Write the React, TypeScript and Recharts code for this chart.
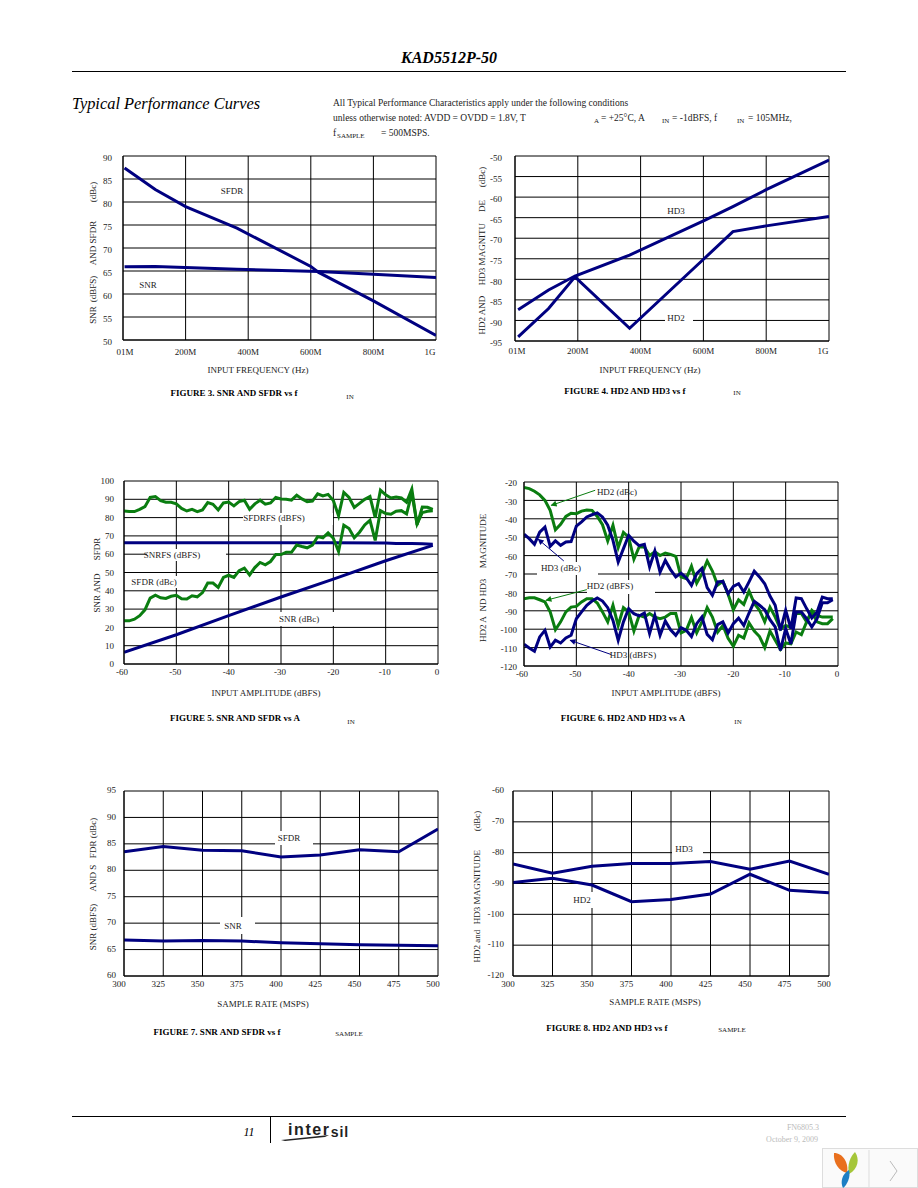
import React from 'react';
import { CartesianGrid, Line, LineChart, ReferenceLine, XAxis, YAxis } from 'recharts';

const NAVY = '#000080';
const GREEN = '#0a7d10';
const SERIF = '"Liberation Serif", serif';

// figure 3 / 4: input frequency in MHz
const freqTicks = [0, 200, 400, 600, 800, 1000];
const freqLabels = ['01M', '200M', '400M', '600M', '800M', '1G'];

const fig3Ticks = [50, 55, 60, 65, 70, 75, 80, 85, 90];
const fig3SfdrX = [5, 103, 200, 364, 600, 625, 800, 1000];
const fig3Sfdr = [87.4, 82.7, 79, 74.3, 66, 64.7, 58.5, 51];
const fig3SnrX = [5, 103, 364, 625, 800, 1000];
const fig3Snr = [65.9, 66, 65.4, 64.9, 64.3, 63.6];

const fig4Ticks = [-95, -90, -85, -80, -75, -70, -65, -60, -55, -50];
const fig4X = [10, 107, 191, 365, 602, 694, 800, 1000];
const fig4Hd3 = [-87.4, -82.6, -79.2, -74.1, -65.7, -62.3, -58.2, -51];
const fig4Hd2 = [-94, -87.1, -79.4, -91.9, -75, -68.4, -67, -64.7];

// figure 5 / 6: input amplitude, one point per dB from -60 to -1
const ampX = [
  -60, -59, -58, -57, -56, -55, -54, -53, -52, -51, -50, -49, -48, -47, -46, -45, -44, -43, -42, -41,
  -40, -39, -38, -37, -36, -35, -34, -33, -32, -31, -30, -29, -28, -27, -26, -25, -24, -23, -22, -21,
  -20, -19, -18, -17, -16, -15, -14, -13, -12, -11, -10, -9, -8, -7, -6, -5, -4, -3, -2, -1,
];
const ampTicks = [-60, -50, -40, -30, -20, -10, 0];

const fig5Ticks = [0, 10, 20, 30, 40, 50, 60, 70, 80, 90, 100];
const fig5SfdrFs = [
  83.6, 83.3, 83.3, 84.5, 86, 91, 91.5, 89.3, 88.4, 88.4, 87.5, 85, 83.6, 84.5, 83.3, 84.2, 88.2, 87.3, 84.2, 88,
  88.5, 86.4, 88.7, 89.5, 84.5, 87.5, 89.5, 87.3, 88, 91, 90.2, 90, 89.5, 92.2, 90.2, 88.7, 89, 93, 91.8, 92.7,
  89.3, 81, 93.8, 91, 85.5, 87.8, 90, 91.5, 80, 95, 92.4, 90.7, 91.3, 90.7, 88.4, 95.6, 76, 85.8, 85.6, 84.5,
];
const fig5SfdrC = [
  23.6, 23.6, 24.5, 26.4, 29.6, 36, 37.6, 36.2, 35.8, 37, 37.5, 35.6, 35.5, 37.3, 36.7, 39, 44.2, 44.2, 41.8, 47.3,
  48.5, 47.3, 51, 52.4, 48.7, 52.7, 55.5, 54.2, 56, 59.8, 59.8, 61, 61, 65, 64.2, 63.5, 65, 69.6, 68.9, 71.6,
  68.7, 61.5, 75.8, 74, 69, 72, 76, 78.5, 67.5, 83.8, 82.2, 81.8, 83.5, 83.8, 82, 93.3, 76.5, 82.7, 83.5, 83.8,
];
const fig5SnrFsX = [-60, -50, -40, -30, -20, -10, -8, -5, -3, -1];
const fig5SnrFs = [66.2, 66.2, 66.2, 66.3, 66.3, 66.1, 65.8, 65.9, 65.7, 65.4];
const fig5SnrCX = [-60, -50, -40, -30, -20, -10, -1];
const fig5SnrC = [6.4, 16, 26.4, 36.6, 46.4, 56.4, 64.8];

const fig6Ticks = [-120, -110, -100, -90, -80, -70, -60, -50, -40, -30, -20];
const fig6Hd2C = [
  -23, -23.6, -25, -27, -30, -35.4, -46, -43, -38.7, -37, -37.2, -35.8, -35.2, -35.4, -38.7, -43.2, -52, -43.5, -55.7, -47.4,
  -50, -62, -55.3, -55.3, -60, -58, -60, -58.6, -59.3, -60.4, -71.6, -72.5, -65.7, -75, -69.8, -63, -68.4, -76, -74, -81,
  -89.4, -84, -86.5, -79.2, -86, -89.7, -96, -88, -93.4, -100, -98, -99, -91.5, -91.5, -96, -89.7, -92.5, -93.4, -93.4, -93.4,
];
const fig6Hd3C = [
  -48.4, -50.8, -53.9, -47.2, -44.5, -55, -52, -54.4, -52.6, -52.4, -44, -41.7, -39, -37.8, -36.8, -39, -43.5, -51.7, -63.5, -56.2,
  -49, -52.2, -54.6, -53.9, -66.2, -57.5, -69, -62.6, -67.6, -71.6, -69.5, -72, -76.2, -69.8, -67, -77.4, -81.6, -74.3, -74, -80.7,
  -76.7, -75.3, -79.8, -74.3, -68.5, -71.6, -75.3, -82, -87, -100.6, -89.7, -99.7, -83, -83.4, -88.8, -93.9, -90.6, -82.5, -83.4, -83.4,
];
const fig6Hd2Fs = [
  -83.4, -82.9, -82.9, -84, -85.2, -90.6, -100.3, -96, -90.6, -88, -87.6, -85.2, -83.4, -83.4, -85.8, -90.6, -96, -87, -98, -88.3,
  -90.6, -101, -92.5, -93.4, -91.5, -93.4, -94.3, -93.4, -91.5, -91.5, -102, -100.6, -93.7, -102, -96, -88.3, -93.4, -101.6, -98, -105,
  -109.3, -103.3, -104.8, -96.6, -101, -104, -110, -101, -106, -111, -107.5, -108, -101.5, -103, -96, -90.6, -96, -97, -97, -94.3,
];
const fig6Hd3Fs = [
  -108.2, -110.2, -112, -104.2, -100.6, -109.7, -106, -107.5, -104.8, -103.3, -94.3, -90.6, -87, -84.7, -83, -84.7, -88.3, -95.2, -106, -96,
  -88.8, -91.6, -92.8, -91.2, -102.4, -92.5, -103.3, -95.5, -100.3, -103.3, -99.2, -100.6, -104, -97, -93.4, -102.8, -105.7, -97.5, -96, -102,
  -97, -94, -98, -91.2, -84.9, -87, -89.4, -94.8, -98.8, -111.5, -99.7, -108, -90.6, -90.6, -94.3, -98.8, -94.3, -85.6, -85.6, -84,
];

// figure 7 / 8: sample rate in MSPS
const rateX = [300, 325, 350, 375, 400, 425, 450, 475, 500];

const fig7Ticks = [60, 65, 70, 75, 80, 85, 90, 95];
const fig7Sfdr = [83.5, 84.5, 83.8, 83.7, 82.5, 82.9, 83.9, 83.5, 87.8];
const fig7Snr = [66.8, 66.6, 66.7, 66.6, 66.3, 66.1, 65.9, 65.8, 65.7];

const fig8Ticks = [-120, -110, -100, -90, -80, -70, -60];
const fig8Hd3 = [-83.7, -86.7, -84.4, -83.5, -83.5, -82.9, -85.4, -82.7, -87];
const fig8Hd2 = [-89.7, -88.3, -90.5, -95.9, -95.2, -93.4, -87, -92.2, -93];

const toPoints = (xs: number[], ys: number[]) => xs.map((x, i) => ({ x, y: ys[i] }));

interface SeriesDef {
  xs: number[];
  ys: number[];
  color: string;
}

interface PlotProps {
  left: number;
  top: number;
  width: number;
  height: number;
  xTicks: number[];
  xLabels?: string[];
  xNudge?: number[];
  xGap: number;
  yTicks: number[];
  yGap: number;
  yShift: number;
  series: SeriesDef[];
  children?: React.ReactNode;
}

const MARGIN_LEFT = 60;
const MARGIN_TOP = 8;
const AXIS_HEIGHT = 30;

const Plot: React.FC<PlotProps> = ({ left, top, width, height, xTicks, xLabels, xNudge, xGap, yTicks, yGap, yShift, series, children }) => {
  const xDomain = [xTicks[0], xTicks[xTicks.length - 1]];
  const yDomain = [yTicks[0], yTicks[yTicks.length - 1]];
  const renderXTick = (p: any) => {
    const i = xTicks.indexOf(p.payload.value);
    return (
      <text x={p.x + (xNudge ? xNudge[i] : 0)} y={p.y - 8 + xGap} textAnchor="middle" dominantBaseline="central" fontSize={9} fontFamily={SERIF} fill="#222">
        {xLabels ? xLabels[i] : p.payload.value}
      </text>
    );
  };
  return (
    <div style={{ position: 'absolute', left: left - MARGIN_LEFT, top: top - MARGIN_TOP }}>
      <LineChart
        width={MARGIN_LEFT + width + 14}
        height={MARGIN_TOP + height + AXIS_HEIGHT}
        margin={{ top: MARGIN_TOP, right: 14, left: 0, bottom: 0 }}
      >
        <defs>
          <marker id="arrow-green" viewBox="0 0 10 10" refX="9" refY="5" markerWidth="9" markerHeight="6" orient="auto-start-reverse">
            <path d="M0,0 L10,5 L0,10 z" fill={GREEN} />
          </marker>
          <marker id="arrow-navy" viewBox="0 0 10 10" refX="9" refY="5" markerWidth="9" markerHeight="6" orient="auto-start-reverse">
            <path d="M0,0 L10,5 L0,10 z" fill={NAVY} />
          </marker>
        </defs>
        <CartesianGrid stroke="#000" strokeWidth={1} />
        <XAxis
          dataKey="x"
          type="number"
          domain={xDomain}
          ticks={xTicks}
          interval={0}
          height={AXIS_HEIGHT}
          tickLine={false}
          axisLine={{ stroke: '#000' }}
          tick={renderXTick}
          allowDataOverflow
        />
        <YAxis
          type="number"
          domain={yDomain}
          ticks={yTicks}
          interval={0}
          width={MARGIN_LEFT}
          tickLine={false}
          tickSize={0}
          tickMargin={yGap}
          axisLine={{ stroke: '#000' }}
          tick={{ fontSize: 9, fontFamily: SERIF, fill: '#222', dy: yShift }}
          allowDataOverflow
        />
        {series.map((s, i) => (
          <Line
            key={i}
            data={toPoints(s.xs, s.ys)}
            dataKey="y"
            type="linear"
            stroke={s.color}
            strokeWidth={3}
            dot={false}
            isAnimationActive={false}
          />
        ))}
        {children}
      </LineChart>
    </div>
  );
};

const Txt: React.FC<{ x: number; y: number; size?: number; style?: React.CSSProperties; children: React.ReactNode }> = ({ x, y, size = 9, style, children }) => (
  <div
    style={{
      position: 'absolute',
      left: x,
      top: y,
      transform: 'translate(-50%, -50%)',
      whiteSpace: 'nowrap',
      fontFamily: SERIF,
      fontSize: size,
      lineHeight: 1,
      color: '#222',
      ...style,
    }}
  >
    {children}
  </div>
);

const LeftTxt: React.FC<{ x: number; y: number; size?: number; style?: React.CSSProperties; children: React.ReactNode }> = ({ x, y, size = 9.5, style, children }) => (
  <div style={{ position: 'absolute', left: x, top: y - size / 2, whiteSpace: 'nowrap', fontFamily: SERIF, fontSize: size, lineHeight: 1, color: '#222', ...style }}>
    {children}
  </div>
);

const VTxt: React.FC<{ x: number; y: number; children: React.ReactNode }> = ({ x, y, children }) => (
  <Txt x={x} y={y} style={{ transform: 'translate(-50%, -50%) rotate(-90deg)' }}>
    {children}
  </Txt>
);

const Mask: React.FC<{ x0: number; y0: number; x1: number; y1: number }> = ({ x0, y0, x1, y1 }) => (
  <div style={{ position: 'absolute', left: x0, top: y0, width: x1 - x0, height: y1 - y0, background: '#fff' }} />
);

const Rule: React.FC<{ x: number; y: number; w: number; h: number }> = ({ x, y, w, h }) => (
  <div style={{ position: 'absolute', left: x, top: y, width: w, height: h, background: '#000' }} />
);

const Caption: React.FC<{ x: number; y: number; children: React.ReactNode }> = ({ x, y, children }) => (
  <Txt x={x} y={y} style={{ fontWeight: 'bold', color: '#000' }}>
    {children}
  </Txt>
);

export default function App() {
  return (
    <div style={{ position: 'absolute', left: 0, top: 0, width: 918, height: 1188, background: '#fff', overflow: 'hidden' }}>
      {/* page header */}
      <Txt x={449} y={58} size={16} style={{ fontWeight: 'bold', fontStyle: 'italic', color: '#000' }}>KAD5512P-50</Txt>
      <Rule x={72} y={71} w={774} h={1} />
      <LeftTxt x={72} y={104} size={16.4} style={{ fontStyle: 'italic', color: '#000' }}>Typical Performance Curves</LeftTxt>
      <LeftTxt x={333} y={104}>All Typical Performance Characteristics apply under the following conditions</LeftTxt>
      <LeftTxt x={333} y={119}>unless otherwise noted: AVDD = OVDD = 1.8V, T</LeftTxt>
      <LeftTxt x={594} y={121} size={7}>A</LeftTxt>
      <LeftTxt x={601} y={119}>= +25°C, A</LeftTxt>
      <LeftTxt x={662} y={121} size={7}>IN</LeftTxt>
      <LeftTxt x={672} y={119}>= -1dBFS, f</LeftTxt>
      <LeftTxt x={737} y={121} size={7}>IN</LeftTxt>
      <LeftTxt x={748} y={119}>= 105MHz,</LeftTxt>
      <LeftTxt x={333} y={134}>f</LeftTxt>
      <LeftTxt x={337} y={136} size={7}>SAMPLE</LeftTxt>
      <LeftTxt x={381} y={134}>= 500MSPS.</LeftTxt>

      {/* figure 3 */}
      <Plot
        left={123}
        top={156}
        width={313}
        height={184}
        xTicks={freqTicks}
        xLabels={freqLabels}
        xNudge={[2, 0, 0, 0, 0, -6]}
        xGap={12}
        yTicks={fig3Ticks}
        yGap={11}
        yShift={2}
        series={[
          { xs: fig3SfdrX, ys: fig3Sfdr, color: NAVY },
          { xs: fig3SnrX, ys: fig3Snr, color: NAVY },
        ]}
      />
      <Mask x0={219} y0={183} x1={247} y1={197} />
      <Txt x={232} y={191}>SFDR</Txt>
      <Txt x={148} y={285}>SNR</Txt>
      <VTxt x={93} y={315}>SNR</VTxt>
      <VTxt x={93} y={289}>(dBFS)</VTxt>
      <VTxt x={93} y={243}>AND SFDR</VTxt>
      <VTxt x={93} y={192}>(dBc)</VTxt>
      <Txt x={258} y={370}>INPUT FREQUENCY (Hz)</Txt>
      <Caption x={234} y={393}>FIGURE 3. SNR AND SFDR vs f</Caption>
      <Txt x={350} y={397} size={7}>IN</Txt>

      {/* figure 4 */}
      <Plot
        left={515}
        top={156}
        width={314}
        height={185}
        xTicks={freqTicks}
        xLabels={freqLabels}
        xNudge={[2, 0, 0, 0, 0, -6]}
        xGap={10}
        yTicks={fig4Ticks}
        yGap={13}
        yShift={2}
        series={[
          { xs: fig4X, ys: fig4Hd3, color: NAVY },
          { xs: fig4X, ys: fig4Hd2, color: NAVY },
        ]}
      />
      <Txt x={676} y={211}>HD3</Txt>
      <Mask x0={665} y0={313} x1={693} y1={323} />
      <Txt x={676} y={318}>HD2</Txt>
      <VTxt x={482} y={315}>HD2 AND</VTxt>
      <VTxt x={482} y={254}>HD3 MAGNITU</VTxt>
      <VTxt x={482} y={206}>DE</VTxt>
      <VTxt x={482} y={177}>(dBc)</VTxt>
      <Txt x={650} y={370}>INPUT FREQUENCY (Hz)</Txt>
      <Caption x={625} y={391}>FIGURE 4. HD2 AND HD3 vs f</Caption>
      <Txt x={737} y={393} size={7}>IN</Txt>

      {/* figure 5 */}
      <Plot
        left={124}
        top={481}
        width={314}
        height={183}
        xTicks={ampTicks}
        xNudge={[-2, -1, 0, -1, 0, -1, -1]}
        xGap={8}
        yTicks={fig5Ticks}
        yGap={10}
        yShift={0}
        series={[
          { xs: fig5SnrFsX, ys: fig5SnrFs, color: NAVY },
          { xs: fig5SnrCX, ys: fig5SnrC, color: NAVY },
          { xs: ampX, ys: fig5SfdrFs, color: GREEN },
          { xs: ampX, ys: fig5SfdrC, color: GREEN },
        ]}
      />
      <Mask x0={243} y0={513} x1={333} y1={525} />
      <Txt x={274} y={518}>SFDRFS (dBFS)</Txt>
      <Mask x0={147} y0={549} x1={226} y1={561} />
      <Txt x={172} y={555}>SNRFS (dBFS)</Txt>
      <Mask x0={132} y0={576} x1={177} y1={588} />
      <Txt x={154} y={582}>SFDR (dBc)</Txt>
      <Mask x0={272} y0={612} x1={336} y1={626} />
      <Txt x={299} y={619}>SNR (dBc)</Txt>
      <VTxt x={97} y={593}>SNR AND</VTxt>
      <VTxt x={97} y={549}>SFDR</VTxt>
      <Txt x={266} y={693}>INPUT AMPLITUDE (dBFS)</Txt>
      <Caption x={235} y={718}>FIGURE 5. SNR AND SFDR vs A</Caption>
      <Txt x={351} y={722} size={7}>IN</Txt>

      {/* figure 6 */}
      <Plot
        left={524}
        top={482}
        width={314}
        height={184}
        xTicks={ampTicks}
        xNudge={[-2, -1, 0, -1, 0, -1, -1]}
        xGap={8}
        yTicks={fig6Ticks}
        yGap={7}
        yShift={1}
        series={[
          { xs: ampX, ys: fig6Hd2C, color: GREEN },
          { xs: ampX, ys: fig6Hd2Fs, color: GREEN },
          { xs: ampX, ys: fig6Hd3C, color: NAVY },
          { xs: ampX, ys: fig6Hd3Fs, color: NAVY },
        ]}
      >
        <ReferenceLine segment={[{ x: -46.4, y: -24.5 }, { x: -54.8, y: -32.7 }]} stroke={GREEN} strokeWidth={1} markerEnd="url(#arrow-green)" ifOverflow="visible" />
        <ReferenceLine segment={[{ x: -52.4, y: -62.9 }, { x: -57.3, y: -51.1 }]} stroke={NAVY} strokeWidth={1} markerEnd="url(#arrow-navy)" ifOverflow="visible" />
        <ReferenceLine segment={[{ x: -48, y: -78.5 }, { x: -55.8, y: -84.3 }]} stroke={GREEN} strokeWidth={1} markerEnd="url(#arrow-green)" ifOverflow="visible" />
        <ReferenceLine segment={[{ x: -43.3, y: -113.8 }, { x: -51.2, y: -106 }]} stroke={NAVY} strokeWidth={1} markerEnd="url(#arrow-navy)" ifOverflow="visible" />
      </Plot>
      <Txt x={617} y={492}>HD2 (dBc)</Txt>
      <Mask x0={537} y0={562} x1={598} y1={575} />
      <Txt x={561} y={568}>HD3 (dBc)</Txt>
      <Mask x0={587} y0={580} x1={655} y1={594} />
      <Txt x={610} y={586}>HD2 (dBFS)</Txt>
      <Txt x={633} y={655}>HD3 (dBFS)</Txt>
      <VTxt x={483} y={629}>HD2 A</VTxt>
      <VTxt x={483} y={595}>ND HD3</VTxt>
      <VTxt x={483} y={541}>MAGNITUDE</VTxt>
      <Txt x={666} y={693}>INPUT AMPLITUDE (dBFS)</Txt>
      <Caption x={623} y={718}>FIGURE 6. HD2 AND HD3 vs A</Caption>
      <Txt x={738} y={722} size={7}>IN</Txt>

      {/* figure 7 */}
      <Plot
        left={124}
        top={791}
        width={314}
        height={185}
        xTicks={rateX}
        xNudge={[-5, -5, -5, -5, -5, -5, -5, -5, -5]}
        xGap={8}
        yTicks={fig7Ticks}
        yGap={8}
        yShift={-1}
        series={[
          { xs: rateX, ys: fig7Sfdr, color: NAVY },
          { xs: rateX, ys: fig7Snr, color: NAVY },
        ]}
      />
      <Mask x0={275} y0={831} x1={313} y1={845} />
      <Txt x={289} y={838}>SFDR</Txt>
      <Mask x0={220} y0={917} x1={255} y1={934} />
      <Txt x={233} y={926}>SNR</Txt>
      <VTxt x={93} y={927}>SNR (dBFS)</VTxt>
      <VTxt x={93} y={878}>AND S</VTxt>
      <VTxt x={93} y={838}>FDR (dBc)</VTxt>
      <Txt x={263} y={1004}>SAMPLE RATE (MSPS)</Txt>
      <Caption x={217} y={1032}>FIGURE 7. SNR AND SFDR vs f</Caption>
      <Txt x={349} y={1034} size={7}>SAMPLE</Txt>

      {/* figure 8 */}
      <Plot
        left={513}
        top={791}
        width={316}
        height={185}
        xTicks={rateX}
        xNudge={[-5, -5, -5, -5, -5, -5, -5, -5, -5]}
        xGap={8}
        yTicks={fig8Ticks}
        yGap={9}
        yShift={-1}
        series={[
          { xs: rateX, ys: fig8Hd3, color: NAVY },
          { xs: rateX, ys: fig8Hd2, color: NAVY },
        ]}
      />
      <Mask x0={672} y0={842} x1={703} y1={855} />
      <Txt x={684} y={849}>HD3</Txt>
      <Mask x0={573} y0={892} x1={594} y1={908} />
      <Txt x={582} y={900}>HD2</Txt>
      <VTxt x={477} y={946}>HD2 and</VTxt>
      <VTxt x={477} y={887}>HD3 MAGNITUDE</VTxt>
      <VTxt x={477} y={821}>(dBc)</VTxt>
      <Txt x={655} y={1002}>SAMPLE RATE (MSPS)</Txt>
      <Caption x={607} y={1028}>FIGURE 8. HD2 AND HD3 vs f</Caption>
      <Txt x={732} y={1030} size={7}>SAMPLE</Txt>

      {/* page footer */}
      <Rule x={72} y={1116} w={774} h={1} />
      <Rule x={270} y={1117} w={1} h={26} />
      <Txt x={249} y={1132} size={12} style={{ fontStyle: 'italic', color: '#000' }}>11</Txt>
      <LeftTxt x={288} y={1130} size={16} style={{ fontFamily: '"Liberation Sans", sans-serif', fontWeight: 'bold', color: '#222', letterSpacing: 1.6 }}>
        inter<span style={{ fontSize: 14, position: 'relative', top: 2, letterSpacing: 1 }}>sil</span>
      </LeftTxt>
      <svg style={{ position: 'absolute', left: 281, top: 1134, width: 50, height: 8 }}>
        <path d="M0,6 L48,1 L44,3 L4,7 z" fill="#222" />
      </svg>
      <Txt x={803} y={1128} size={8} style={{ color: '#bbb' }}>FN6805.3</Txt>
      <Txt x={792} y={1140} size={8} style={{ color: '#bbb' }}>October 9, 2009</Txt>
      <div style={{ position: 'absolute', left: 822, top: 1148, width: 96, height: 40, background: '#fafafa', border: '1px solid #ddd', boxSizing: 'border-box' }}>
        <svg width="96" height="40" style={{ position: 'absolute', left: 0, top: 0 }}>
          <path d="M46,1 L46,39" stroke="#ddd" />
          <path d="M11,4 C20,4 26,14 24,24 C16,22 10,14 11,4 z" fill="#e9701e" />
          <path d="M32,3 C37,10 35,20 26,25 C24,16 27,8 32,3 z" fill="#a5c639" />
          <path d="M26,21 C28,28 24,36 20,39 C17,33 19,25 26,21 z" fill="#1d7fc4" />
          <path d="M67,12 L74,22 L67,32" fill="none" stroke="#bbb" />
        </svg>
      </div>
    </div>
  );
}
